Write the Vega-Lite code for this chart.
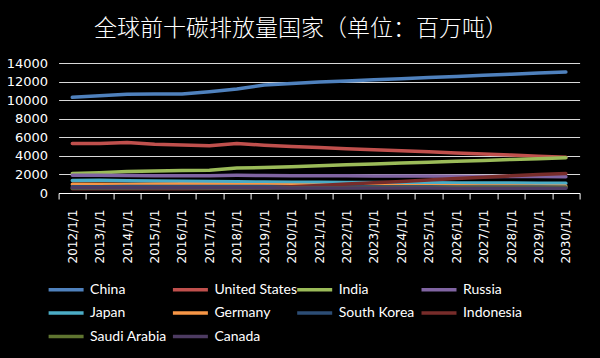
{
  "$schema": "https://vega.github.io/schema/vega-lite/v6.json",
  "autosize": "none",
  "width": 521,
  "height": 130,
  "padding": {"left": 58.6, "top": 63, "right": 20.4, "bottom": 165},
  "background": "#000000",
  "title": {
    "text": "全球前十碳排放量国家（单位：百万吨）",
    "font": "Noto Sans CJK SC",
    "fontSize": 23,
    "fontWeight": 300,
    "color": "#FFFFFF",
    "anchor": "middle",
    "dx": -18,
    "offset": 16
  },
  "config": {
    "view": {"stroke": null},
    "axis": {"labelColor": "#FFFFFF", "titleColor": "#FFFFFF"}
  },
  "datasets": {
    "emissions": [
      {"country":"China","year":"2012/1/1","value":10300},{"country":"China","year":"2013/1/1","value":10480},{"country":"China","year":"2014/1/1","value":10630},{"country":"China","year":"2015/1/1","value":10650},{"country":"China","year":"2016/1/1","value":10660},{"country":"China","year":"2017/1/1","value":10900},{"country":"China","year":"2018/1/1","value":11200},{"country":"China","year":"2019/1/1","value":11630},{"country":"China","year":"2020/1/1","value":11800},{"country":"China","year":"2021/1/1","value":11950},{"country":"China","year":"2022/1/1","value":12070},{"country":"China","year":"2023/1/1","value":12190},{"country":"China","year":"2024/1/1","value":12310},{"country":"China","year":"2025/1/1","value":12430},{"country":"China","year":"2026/1/1","value":12550},{"country":"China","year":"2027/1/1","value":12670},{"country":"China","year":"2028/1/1","value":12790},{"country":"China","year":"2029/1/1","value":12910},{"country":"China","year":"2030/1/1","value":13030},
      {"country":"United States","year":"2012/1/1","value":5320},{"country":"United States","year":"2013/1/1","value":5320},{"country":"United States","year":"2014/1/1","value":5450},{"country":"United States","year":"2015/1/1","value":5260},{"country":"United States","year":"2016/1/1","value":5180},{"country":"United States","year":"2017/1/1","value":5080},{"country":"United States","year":"2018/1/1","value":5320},{"country":"United States","year":"2019/1/1","value":5150},{"country":"United States","year":"2020/1/1","value":5000},{"country":"United States","year":"2021/1/1","value":4890},{"country":"United States","year":"2022/1/1","value":4770},{"country":"United States","year":"2023/1/1","value":4660},{"country":"United States","year":"2024/1/1","value":4540},{"country":"United States","year":"2025/1/1","value":4430},{"country":"United States","year":"2026/1/1","value":4310},{"country":"United States","year":"2027/1/1","value":4200},{"country":"United States","year":"2028/1/1","value":4080},{"country":"United States","year":"2029/1/1","value":3970},{"country":"United States","year":"2030/1/1","value":3850},
      {"country":"India","year":"2012/1/1","value":2100},{"country":"India","year":"2013/1/1","value":2180},{"country":"India","year":"2014/1/1","value":2320},{"country":"India","year":"2015/1/1","value":2380},{"country":"India","year":"2016/1/1","value":2430},{"country":"India","year":"2017/1/1","value":2460},{"country":"India","year":"2018/1/1","value":2700},{"country":"India","year":"2019/1/1","value":2740},{"country":"India","year":"2020/1/1","value":2840},{"country":"India","year":"2021/1/1","value":2930},{"country":"India","year":"2022/1/1","value":3030},{"country":"India","year":"2023/1/1","value":3120},{"country":"India","year":"2024/1/1","value":3220},{"country":"India","year":"2025/1/1","value":3320},{"country":"India","year":"2026/1/1","value":3410},{"country":"India","year":"2027/1/1","value":3510},{"country":"India","year":"2028/1/1","value":3610},{"country":"India","year":"2029/1/1","value":3700},{"country":"India","year":"2030/1/1","value":3800},
      {"country":"Russia","year":"2012/1/1","value":1900},{"country":"Russia","year":"2013/1/1","value":1900},{"country":"Russia","year":"2014/1/1","value":1880},{"country":"Russia","year":"2015/1/1","value":1850},{"country":"Russia","year":"2016/1/1","value":1860},{"country":"Russia","year":"2017/1/1","value":1870},{"country":"Russia","year":"2018/1/1","value":1900},{"country":"Russia","year":"2019/1/1","value":1880},{"country":"Russia","year":"2020/1/1","value":1870},{"country":"Russia","year":"2021/1/1","value":1860},{"country":"Russia","year":"2022/1/1","value":1850},{"country":"Russia","year":"2023/1/1","value":1840},{"country":"Russia","year":"2024/1/1","value":1830},{"country":"Russia","year":"2025/1/1","value":1820},{"country":"Russia","year":"2026/1/1","value":1810},{"country":"Russia","year":"2027/1/1","value":1790},{"country":"Russia","year":"2028/1/1","value":1780},{"country":"Russia","year":"2029/1/1","value":1770},{"country":"Russia","year":"2030/1/1","value":1750},
      {"country":"Japan","year":"2012/1/1","value":1350},{"country":"Japan","year":"2013/1/1","value":1360},{"country":"Japan","year":"2014/1/1","value":1320},{"country":"Japan","year":"2015/1/1","value":1290},{"country":"Japan","year":"2016/1/1","value":1270},{"country":"Japan","year":"2017/1/1","value":1240},{"country":"Japan","year":"2018/1/1","value":1200},{"country":"Japan","year":"2019/1/1","value":1180},{"country":"Japan","year":"2020/1/1","value":1160},{"country":"Japan","year":"2021/1/1","value":1150},{"country":"Japan","year":"2022/1/1","value":1130},{"country":"Japan","year":"2023/1/1","value":1120},{"country":"Japan","year":"2024/1/1","value":1110},{"country":"Japan","year":"2025/1/1","value":1100},{"country":"Japan","year":"2026/1/1","value":1090},{"country":"Japan","year":"2027/1/1","value":1080},{"country":"Japan","year":"2028/1/1","value":1070},{"country":"Japan","year":"2029/1/1","value":1060},{"country":"Japan","year":"2030/1/1","value":1040},
      {"country":"Germany","year":"2012/1/1","value":950},{"country":"Germany","year":"2013/1/1","value":950},{"country":"Germany","year":"2014/1/1","value":920},{"country":"Germany","year":"2015/1/1","value":930},{"country":"Germany","year":"2016/1/1","value":930},{"country":"Germany","year":"2017/1/1","value":920},{"country":"Germany","year":"2018/1/1","value":900},{"country":"Germany","year":"2019/1/1","value":880},{"country":"Germany","year":"2020/1/1","value":860},{"country":"Germany","year":"2021/1/1","value":840},{"country":"Germany","year":"2022/1/1","value":820},{"country":"Germany","year":"2023/1/1","value":800},{"country":"Germany","year":"2024/1/1","value":790},{"country":"Germany","year":"2025/1/1","value":780},{"country":"Germany","year":"2026/1/1","value":770},{"country":"Germany","year":"2027/1/1","value":760},{"country":"Germany","year":"2028/1/1","value":750},{"country":"Germany","year":"2029/1/1","value":740},{"country":"Germany","year":"2030/1/1","value":730},
      {"country":"South Korea","year":"2012/1/1","value":680},{"country":"South Korea","year":"2013/1/1","value":680},{"country":"South Korea","year":"2014/1/1","value":690},{"country":"South Korea","year":"2015/1/1","value":690},{"country":"South Korea","year":"2016/1/1","value":690},{"country":"South Korea","year":"2017/1/1","value":700},{"country":"South Korea","year":"2018/1/1","value":700},{"country":"South Korea","year":"2019/1/1","value":690},{"country":"South Korea","year":"2020/1/1","value":680},{"country":"South Korea","year":"2021/1/1","value":680},{"country":"South Korea","year":"2022/1/1","value":670},{"country":"South Korea","year":"2023/1/1","value":670},{"country":"South Korea","year":"2024/1/1","value":660},{"country":"South Korea","year":"2025/1/1","value":660},{"country":"South Korea","year":"2026/1/1","value":650},{"country":"South Korea","year":"2027/1/1","value":650},{"country":"South Korea","year":"2028/1/1","value":640},{"country":"South Korea","year":"2029/1/1","value":640},{"country":"South Korea","year":"2030/1/1","value":630},
      {"country":"Indonesia","year":"2012/1/1","value":450},{"country":"Indonesia","year":"2013/1/1","value":450},{"country":"Indonesia","year":"2014/1/1","value":460},{"country":"Indonesia","year":"2015/1/1","value":460},{"country":"Indonesia","year":"2016/1/1","value":470},{"country":"Indonesia","year":"2017/1/1","value":480},{"country":"Indonesia","year":"2018/1/1","value":500},{"country":"Indonesia","year":"2019/1/1","value":550},{"country":"Indonesia","year":"2020/1/1","value":680},{"country":"Indonesia","year":"2021/1/1","value":820},{"country":"Indonesia","year":"2022/1/1","value":960},{"country":"Indonesia","year":"2023/1/1","value":1100},{"country":"Indonesia","year":"2024/1/1","value":1250},{"country":"Indonesia","year":"2025/1/1","value":1400},{"country":"Indonesia","year":"2026/1/1","value":1550},{"country":"Indonesia","year":"2027/1/1","value":1700},{"country":"Indonesia","year":"2028/1/1","value":1850},{"country":"Indonesia","year":"2029/1/1","value":1980},{"country":"Indonesia","year":"2030/1/1","value":2100},
      {"country":"Saudi Arabia","year":"2012/1/1","value":520},{"country":"Saudi Arabia","year":"2013/1/1","value":530},{"country":"Saudi Arabia","year":"2014/1/1","value":550},{"country":"Saudi Arabia","year":"2015/1/1","value":560},{"country":"Saudi Arabia","year":"2016/1/1","value":560},{"country":"Saudi Arabia","year":"2017/1/1","value":550},{"country":"Saudi Arabia","year":"2018/1/1","value":550},{"country":"Saudi Arabia","year":"2019/1/1","value":560},{"country":"Saudi Arabia","year":"2020/1/1","value":560},{"country":"Saudi Arabia","year":"2021/1/1","value":570},{"country":"Saudi Arabia","year":"2022/1/1","value":570},{"country":"Saudi Arabia","year":"2023/1/1","value":580},{"country":"Saudi Arabia","year":"2024/1/1","value":580},{"country":"Saudi Arabia","year":"2025/1/1","value":590},{"country":"Saudi Arabia","year":"2026/1/1","value":590},{"country":"Saudi Arabia","year":"2027/1/1","value":600},{"country":"Saudi Arabia","year":"2028/1/1","value":600},{"country":"Saudi Arabia","year":"2029/1/1","value":600},{"country":"Saudi Arabia","year":"2030/1/1","value":600},
      {"country":"Canada","year":"2012/1/1","value":560},{"country":"Canada","year":"2013/1/1","value":570},{"country":"Canada","year":"2014/1/1","value":570},{"country":"Canada","year":"2015/1/1","value":560},{"country":"Canada","year":"2016/1/1","value":560},{"country":"Canada","year":"2017/1/1","value":560},{"country":"Canada","year":"2018/1/1","value":570},{"country":"Canada","year":"2019/1/1","value":560},{"country":"Canada","year":"2020/1/1","value":550},{"country":"Canada","year":"2021/1/1","value":550},{"country":"Canada","year":"2022/1/1","value":540},{"country":"Canada","year":"2023/1/1","value":540},{"country":"Canada","year":"2024/1/1","value":530},{"country":"Canada","year":"2025/1/1","value":530},{"country":"Canada","year":"2026/1/1","value":520},{"country":"Canada","year":"2027/1/1","value":520},{"country":"Canada","year":"2028/1/1","value":510},{"country":"Canada","year":"2029/1/1","value":510},{"country":"Canada","year":"2030/1/1","value":500}
    ]
  },
  "data": {"name": "emissions"},
  "mark": {"type": "line", "strokeWidth": 3.5, "strokeCap": "round", "strokeJoin": "round"},
  "encoding": {
    "x": {
      "field": "year",
      "type": "ordinal",
      "scale": {"type": "band", "paddingInner": 0, "paddingOuter": 0},
      "axis": {
        "title": null,
        "labelAngle": -90,
        "labelAlign": "right",
        "labelBaseline": "middle",
        "labelFont": "DejaVu Sans",
        "labelFontSize": 12,
        "labelPadding": 10,
        "tickBand": "extent",
        "tickColor": "#FFFFFF",
        "tickSize": 6,
        "domainColor": "#FFFFFF",
        "domainWidth": 1,
        "grid": false
      }
    },
    "y": {
      "field": "value",
      "type": "quantitative",
      "scale": {"domain": [0, 14000], "nice": false},
      "axis": {
        "title": null,
        "format": "d",
        "values": [0, 2000, 4000, 6000, 8000, 10000, 12000, 14000],
        "domain": false,
        "ticks": false,
        "labelFont": "DejaVu Sans",
        "labelFontSize": 13,
        "labelPadding": 11,
        "grid": true,
        "gridColor": "#D9D9D9",
        "gridWidth": 1
      }
    },
    "color": {
      "field": "country",
      "type": "nominal",
      "scale": {
        "domain": ["China","United States","India","Russia","Japan","Germany","South Korea","Indonesia","Saudi Arabia","Canada"],
        "range": ["#4F81BD","#C0504D","#9BBB59","#8064A2","#4BACC6","#F79646","#2C4D75","#772C2A","#5F7530","#4D3B62"]
      },
      "legend": {
        "title": null,
        "orient": "none",
        "legendX": -3,
        "legendY": 216,
        "direction": "horizontal",
        "columns": 4,
        "gridAlign": "all",
        "columnPadding": -7.7,
        "rowPadding": 5.5,
        "symbolType": "M-2,0H2",
        "symbolSize": 306,
        "symbolStrokeWidth": 3.5,
        "labelFont": "Lato",
        "labelFontSize": 14,
        "labelColor": "#FFFFFF",
        "labelOffset": 13.5,
        "labelLimit": 200
      }
    }
  }
}
